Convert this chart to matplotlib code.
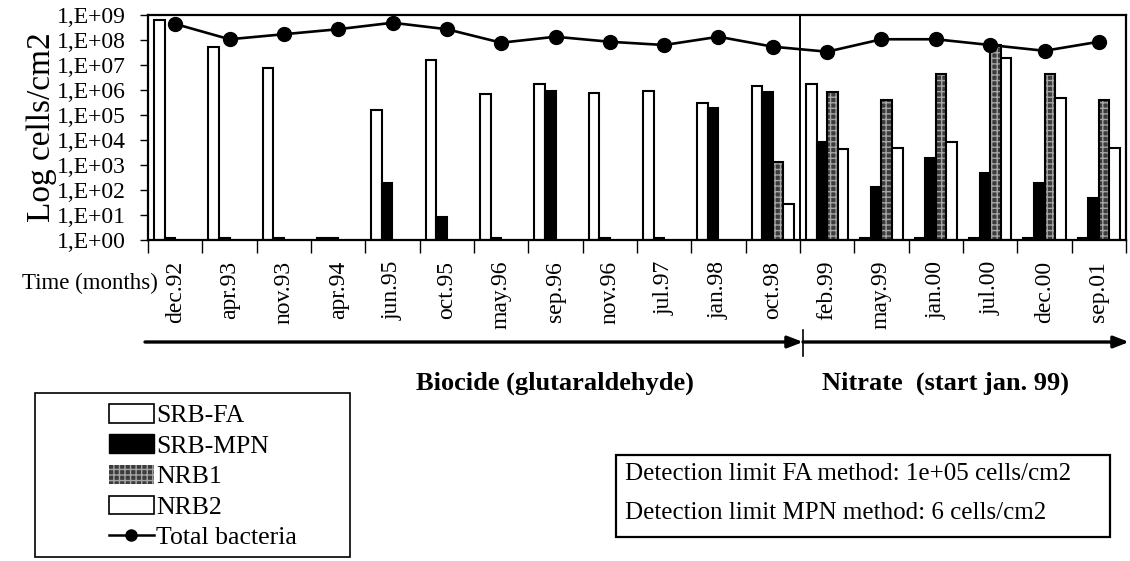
import numpy as np
import matplotlib
matplotlib.use('Agg')
import matplotlib.pyplot as plt
from matplotlib.patches import Patch, Rectangle
from matplotlib.lines import Line2D

plt.rcParams['font.family'] = ['Liberation Serif', 'DejaVu Serif']

# data (cells/cm2, log axis)
months = ['dec.92', 'apr.93', 'nov.93', 'apr.94', 'jun.95', 'oct.95', 'may.96', 'sep.96', 'nov.96',
          'jul.97', 'jan.98', 'oct.98', 'feb.99', 'may.99', 'jan.00', 'jul.00', 'dec.00', 'sep.01']
nan = np.nan
srb_fa = [6.3e8, 5.4e7, 7.4e6, 1.15, 1.6e5, 1.6e7, 6.7e5, 1.7e6, 7.8e5, 9.1e5, 2.9e5, 1.5e6,
          1.7e6, 1.15, 1.15, 1.15, 1.15, 1.15]
srb_mpn = [1.15, 1.15, 1.15, 1.15, 186, 8.3, 1.15, 9.4e5, 1.15, 1.15, 1.96e5, 8.1e5,
           8.5e3, 135, 1.95e3, 465, 186, 46]
nrb1 = [nan] * 11 + [1.35e3, 8.1e5, 4.0e5, 4.3e6, 6.3e7, 4.3e6, 4.0e5]
nrb2 = [nan] * 11 + [27, 4.2e3, 4.9e3, 8.5e3, 1.96e7, 4.7e5, 4.9e3]
total = [4.4e8, 1.07e8, 1.7e8, 2.7e8, 4.9e8, 2.7e8, 7.8e7, 1.35e8, 8.5e7, 6.3e7, 1.35e8, 5.4e7,
         3.4e7, 1.07e8, 1.07e8, 6.3e7, 3.7e7, 8.5e7]
ytick_vals = [1e0, 1e1, 1e2, 1e3, 1e4, 1e5, 1e6, 1e7, 1e8, 1e9]
ytick_labels = ['1,E+00', '1,E+01', '1,E+02', '1,E+03', '1,E+04', '1,E+05', '1,E+06', '1,E+07',
                '1,E+08', '1,E+09']

W, H = 1130, 561
fig = plt.figure(figsize=(W / 100, H / 100), dpi=100)
ax = fig.add_axes([148 / W, 1 - 240 / H, (1126 - 148) / W, (240 - 15) / H])

x = np.arange(len(months))
w = 0.195
nrb1_face, nrb1_dots = '#3c3c3c', '#a6a6a6'
ax.bar(x - 1.5 * w, np.array(srb_fa) - 1, w, bottom=1, color='white', edgecolor='black', linewidth=1.5)
ax.bar(x - 0.5 * w, np.array(srb_mpn) - 1, w, bottom=1, color='black', edgecolor='black', linewidth=1.5)
ax.bar(x + 0.5 * w, np.array(nrb1) - 1, w, bottom=1, color=nrb1_face, edgecolor=nrb1_dots,
       linewidth=0, hatch='+++')
ax.bar(x + 0.5 * w, np.array(nrb1) - 1, w, bottom=1, fill=False, edgecolor='black', linewidth=1.5)
ax.bar(x + 1.5 * w, np.array(nrb2) - 1, w, bottom=1, color='white', edgecolor='black', linewidth=1.5)
ax.plot(x, total, color='black', linewidth=1.9, marker='o', markersize=10, zorder=5)

ax.set_yscale('log')
ax.set_ylim(1, 1e9)
ax.set_xlim(-0.5, len(months) - 0.5)
ax.set_yticks(ytick_vals)
ax.set_yticklabels(ytick_labels, fontsize=17)
ax.yaxis.set_minor_locator(matplotlib.ticker.NullLocator())
ax.tick_params(axis='y', direction='out', length=6, width=1, pad=10)

# category labels at the centre, tick marks at the boundaries
ax.set_xticks(x)
ax.set_xticklabels(months, rotation=90, fontsize=17)
ax.tick_params(axis='x', which='major', length=0, pad=15)
ax.set_xticks(np.arange(len(months) + 1) - 0.5, minor=True)
ax.tick_params(axis='x', which='minor', direction='out', length=9, width=1)

for s in ax.spines.values():
    s.set_linewidth(1.6)
ax.axvline(11.5, color='black', linewidth=1.4)

ax.set_ylabel('Log cells/cm2', fontsize=24, labelpad=0)
fig.text(22 / W, 1 - 283 / H, 'Time (months)', fontsize=16.5, va='center', ha='left')

# treatment arrows
ya = 1 - 342 / H
ax.annotate('', xy=(803 / W, ya), xytext=(145 / W, ya), xycoords='figure fraction',
            arrowprops=dict(arrowstyle='-|>,head_length=0.9,head_width=0.35', color='black', lw=2.4,
                            shrinkA=0, shrinkB=0))
ax.annotate('', xy=(1129 / W, ya), xytext=(803 / W, ya), xycoords='figure fraction',
            arrowprops=dict(arrowstyle='-|>,head_length=0.9,head_width=0.35', color='black', lw=2.4,
                            shrinkA=0, shrinkB=0))
fig.add_artist(Line2D([803 / W, 803 / W], [1 - 330 / H, 1 - 356 / H], color='black', lw=1.2))
fig.text(555 / W, 1 - 383 / H, 'Biocide (glutaraldehyde)', fontsize=19, fontweight='bold',
         ha='center', va='center')
fig.text(945 / W, 1 - 383 / H, 'Nitrate  (start jan. 99)', fontsize=19, fontweight='bold',
         ha='center', va='center')

# legend box
fig.add_artist(Rectangle((35 / W, 1 - 557 / H), 315 / W, 164 / H, transform=fig.transFigure,
                         fill=False, edgecolor='black', linewidth=1.2))
handles = [Patch(facecolor='white', edgecolor='black', linewidth=1.2),
           Patch(facecolor='black', edgecolor='black'),
           Patch(facecolor=nrb1_face, edgecolor=nrb1_dots, hatch='+++', linewidth=0),
           Patch(facecolor='white', edgecolor='black', linewidth=1.2),
           Line2D([], [], color='black', marker='o', markersize=8, linewidth=1.8)]
fig.legend(handles, ['SRB-FA', 'SRB-MPN', 'NRB1', 'NRB2', 'Total bacteria'], frameon=False,
           loc='upper left', bbox_to_anchor=(96 / W, 1 - 391 / H), fontsize=18.5,
           handlelength=1.75, handleheight=0.75, handletextpad=0.1, labelspacing=0.28, borderpad=0)

# detection limit box
fig.add_artist(Rectangle((616 / W, 1 - 537 / H), 494 / W, 82 / H, transform=fig.transFigure,
                         fill=False, edgecolor='black', linewidth=1.6))
fig.text(625 / W, 1 - 474 / H, 'Detection limit FA method: 1e+05 cells/cm2', fontsize=18,
         ha='left', va='center')
fig.text(625 / W, 1 - 513 / H, 'Detection limit MPN method: 6 cells/cm2', fontsize=18,
         ha='left', va='center')

fig.savefig('out.png', dpi=100)
